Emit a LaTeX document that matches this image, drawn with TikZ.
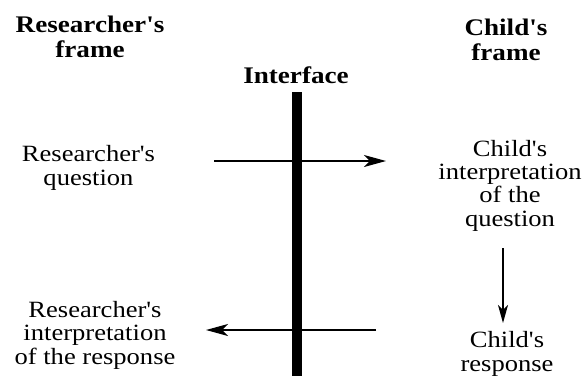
\documentclass[tikz,border=0pt]{standalone}
\usepackage{fontspec}
\setmainfont{Liberation Serif}[FakeStretch=1.14,Ligatures=TeXOff]
\usetikzlibrary{arrows.meta}
\begin{document}
\begin{tikzpicture}[x=1pt,y=-1pt,
  head/.style={font=\fontsize{23.8}{24.5}\selectfont\bfseries,align=center,inner sep=0pt},
  txt/.style={font=\fontsize{23.3}{23.3}\selectfont,align=center,inner sep=0pt},
  flow/.style={line width=1.3pt,-{Stealth[length=22pt,width=12pt,inset=6pt]}}]
\useasboundingbox (0,0) rectangle (584,376);
\node[head,anchor=base] (rf) at (90,57) {Researcher's\\frame};
\node[head,anchor=base] (cf) at (506,60) {Child's\\frame};
\node[head,anchor=base] (if) at (296,83) {Interface};
\fill (292,92) rectangle (302,376);
\node[txt,anchor=base] (rq) at (88.5,185) {Researcher's\\question};
\node[txt,anchor=base] (ci) at (510,226) {Child's\\interpretation\\of the\\question};
\node[txt,anchor=base] (ri) at (95,364) {Researcher's\\interpretation\\of the response};
\node[txt,anchor=base] (cr) at (507,371) {Child's\\response};
\coordinate (a1) at (214,161);
\coordinate (a2) at (386,161);
\coordinate (b1) at (376,330);
\coordinate (b2) at (206,330);
\coordinate (c1) at (503,248);
\coordinate (c2) at (503,323);
\draw[flow] (a1) -- (a2);
\draw[flow] (b1) -- (b2);
\draw[flow,-{Stealth[length=18pt,width=10pt,inset=5pt]}] (c1) -- (c2);
\end{tikzpicture}
\end{document}
